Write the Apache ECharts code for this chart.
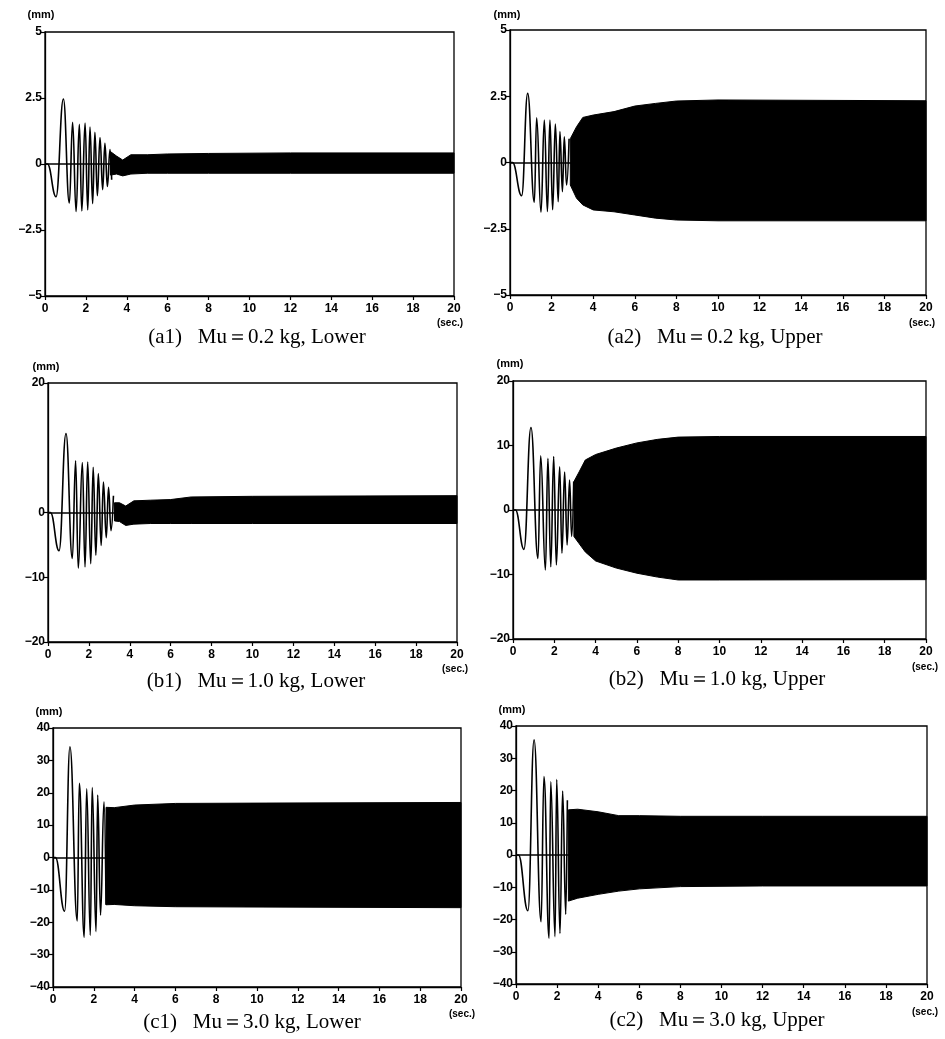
<!DOCTYPE html>
<html>
<head>
<meta charset="utf-8">
<script src="https://cdn.jsdelivr.net/npm/echarts@6/dist/echarts.min.js"></script>
<style>
  html, body { margin: 0; padding: 0; background: #fff; }
  #chart { width: 945px; height: 1039px; }
</style>
</head>
<body>
<div id="chart"></div>
<script>
// time axis ticks (sec.)
const timeTicks = [0, 2, 4, 6, 8, 10, 12, 14, 16, 18, 20]

// captions
const captions = [
  '(a1)   Mu＝0.2 kg, Lower',
  '(a2)   Mu＝0.2 kg, Upper',
  '(b1)   Mu＝1.0 kg, Lower',
  '(b2)   Mu＝1.0 kg, Upper',
  '(c1)   Mu＝3.0 kg, Lower',
  '(c2)   Mu＝3.0 kg, Upper',
]

// y ticks (mm)
const yTicksA = [-5, -2.5, 0, 2.5, 5]
const yTicksB1 = [-20, -10, 0, 20]
const yTicksB = [-20, -10, 0, 10, 20]
const yTicksC = [-40, -30, -20, -10, 0, 10, 20, 30, 40]

// transient peaks / troughs (t in sec, value in mm)
const a1T = [0, 0.12, 0.54, 0.9, 1.19, 1.35, 1.52, 1.68, 1.8, 1.96, 2.09, 2.2, 2.33, 2.44, 2.56, 2.69, 2.82, 2.93, 3.05, 3.18, 3.26]
const a1V = [0, 0, -1.24, 2.46, -1.48, 1.58, -1.8, 1.5, -1.78, 1.55, -1.74, 1.4, -1.5, 1.2, -1.2, 1.0, -0.97, 0.78, -0.85, 0.55, -0.6]
const a2T = [0, 0.12, 0.56, 0.85, 1.17, 1.28, 1.49, 1.65, 1.8, 1.92, 2.05, 2.18, 2.32, 2.4, 2.52, 2.61, 2.72, 2.84]
const a2V = [0, 0, -1.25, 2.61, -1.5, 1.69, -1.88, 1.6, -1.85, 1.6, -1.78, 1.45, -1.48, 1.17, -1.1, 0.97, -0.85, 0.9]
const b1T = [0, 0.12, 0.54, 0.88, 1.19, 1.35, 1.48, 1.68, 1.81, 1.94, 2.09, 2.21, 2.34, 2.46, 2.6, 2.71, 2.85, 2.96, 3.08, 3.2]
const b1V = [0, 0, -5.9, 12.2, -7.1, 8.0, -8.6, 7.7, -8.4, 7.8, -7.9, 7.0, -6.6, 6.0, -5.1, 4.7, -3.9, 3.9, -2.8, 2.6]
const b2T = [0, 0.12, 0.53, 0.87, 1.21, 1.34, 1.57, 1.69, 1.83, 1.97, 2.1, 2.26, 2.37, 2.5, 2.62, 2.74, 2.84, 2.94]
const b2V = [0, 0, -6.1, 12.8, -7.5, 8.4, -9.3, 8.0, -8.8, 8.3, -8.5, 6.7, -6.7, 5.9, -5.4, 4.65, -4.1, 4.4]
const c1T = [0, 0.12, 0.57, 0.83, 1.19, 1.29, 1.53, 1.65, 1.83, 1.92, 2.11, 2.19, 2.33, 2.5, 2.6]
const c1V = [0, 0, -16.6, 34.2, -19.6, 22.9, -24.6, 21.2, -24.0, 21.6, -22.9, 19.3, -17.8, 17.2, -14.6]
const c2T = [0, 0.12, 0.58, 0.88, 1.22, 1.36, 1.61, 1.69, 1.9, 1.98, 2.14, 2.27, 2.42, 2.5]
const c2V = [0, 0, -17.3, 35.7, -20.7, 24.3, -25.8, 22.7, -25.3, 23.4, -24.3, 19.8, -18.4, 17.0]

// envelope of the dense oscillation band (t, upper, lower)
const a1BandT = [3.2, 3.5, 3.8, 4.2, 5, 6, 8, 12, 20]
const a1BandUp = [0.47, 0.3, 0.15, 0.35, 0.35, 0.38, 0.4, 0.42, 0.42]
const a1BandLo = [-0.42, -0.38, -0.45, -0.38, -0.35, -0.35, -0.35, -0.35, -0.35]
const a2BandT = [2.9, 3.2, 3.5, 4, 5, 6, 7, 8, 10, 20]
const a2BandUp = [0.9, 1.35, 1.7, 1.79, 1.92, 2.13, 2.23, 2.32, 2.36, 2.33]
const a2BandLo = [-0.85, -1.35, -1.6, -1.79, -1.86, -1.98, -2.1, -2.17, -2.2, -2.2]
const b1BandT = [3.25, 3.5, 3.8, 4.2, 5, 6, 7, 10, 20]
const b1BandUp = [1.5, 1.5, 1.0, 1.8, 1.9, 2.0, 2.4, 2.5, 2.6]
const b1BandLo = [-1.3, -1.4, -2.0, -1.8, -1.7, -1.7, -1.7, -1.7, -1.7]
const b2BandT = [2.95, 3.2, 3.5, 4, 5, 6, 7, 8, 10, 20]
const b2BandUp = [4.4, 5.9, 7.75, 8.6, 9.6, 10.4, 10.95, 11.3, 11.4, 11.4]
const b2BandLo = [-4.1, -5.2, -6.5, -7.9, -9.0, -9.8, -10.4, -10.85, -10.85, -10.8]
const c1BandT = [2.6, 3, 4, 6, 10, 20]
const c1BandUp = [15.5, 15.4, 16.2, 16.7, 16.8, 17]
const c1BandLo = [-14.6, -14.5, -14.9, -15.2, -15.3, -15.5]
const c2BandT = [2.55, 3, 4, 5, 6, 8, 12, 20]
const c2BandUp = [14, 14.2, 13.4, 12.2, 12.2, 12, 12, 12]
const c2BandLo = [-14.3, -13.4, -12.2, -11.2, -10.5, -9.8, -9.6, -9.6]

const panels = [
  { grid: { left: 45, top: 32, width: 409, height: 264 }, yTicks: yTicksA, t: a1T, v: a1V, bt: a1BandT, bu: a1BandUp, bl: a1BandLo, cap: [257, 337], mm: [41, 15], sec: [450, 323] },
  { grid: { left: 510, top: 30, width: 416, height: 265 }, yTicks: yTicksA, t: a2T, v: a2V, bt: a2BandT, bu: a2BandUp, bl: a2BandLo, cap: [715, 337], mm: [507, 15], sec: [922, 323] },
  { grid: { left: 48, top: 383, width: 409, height: 259 }, yTicks: yTicksB1, t: b1T, v: b1V, bt: b1BandT, bu: b1BandUp, bl: b1BandLo, cap: [256, 681], mm: [46, 367], sec: [455, 669] },
  { grid: { left: 513, top: 381, width: 413, height: 258 }, yTicks: yTicksB, t: b2T, v: b2V, bt: b2BandT, bu: b2BandUp, bl: b2BandLo, cap: [717, 679], mm: [510, 364], sec: [925, 667] },
  { grid: { left: 53, top: 728, width: 408, height: 259 }, yTicks: yTicksC, t: c1T, v: c1V, bt: c1BandT, bu: c1BandUp, bl: c1BandLo, cap: [252, 1022], mm: [49, 712], sec: [462, 1014] },
  { grid: { left: 516, top: 726, width: 411, height: 258 }, yTicks: yTicksC, t: c2T, v: c2V, bt: c2BandT, bu: c2BandUp, bl: c2BandLo, cap: [717, 1020], mm: [512, 710], sec: [925, 1012] },
]

const tickFont = { color: '#000', fontFamily: 'Liberation Sans', fontWeight: 'bold', fontSize: 12 }
const fmt = v => String(v).replace('-', '−')
const zip = (a, b) => a.map((x, i) => [x, b[i]])

const grids = []
const xAxes = []
const yAxes = []
const series = []
const graphics = []

panels.forEach((p, i) => {
  grids.push({ ...p.grid, show: true, borderColor: '#000', borderWidth: 1.3, backgroundColor: 'transparent' })

  xAxes.push({
    gridIndex: i,
    type: 'value',
    min: 0,
    max: 20,
    interval: 2,
    axisLine: { show: true, onZero: false, lineStyle: { color: '#000', width: 1.3 } },
    axisTick: { show: true, length: 4, customValues: timeTicks, lineStyle: { color: '#000', width: 1.2 } },
    axisLabel: { ...tickFont, margin: 7, customValues: timeTicks },
    splitLine: { show: false },
  })

  const ys = p.yTicks
  yAxes.push({
    gridIndex: i,
    type: 'value',
    min: ys[0],
    max: ys[ys.length - 1],
    axisLine: { show: true, lineStyle: { color: '#000', width: 1.3 } },
    axisTick: { show: true, length: 5, customValues: ys, lineStyle: { color: '#000', width: 1.2 } },
    axisLabel: { ...tickFont, margin: 3, customValues: ys, formatter: fmt },
    splitLine: { show: false },
  })

  // dense band: one polygon, upper envelope out and lower envelope back
  series.push({
    type: 'custom',
    name: `band-${i}`,
    xAxisIndex: i,
    yAxisIndex: i,
    silent: true,
    z: 2,
    data: zip(p.bt, p.bu),
    encode: { x: 0, y: 1 },
    renderItem(params, api) {
      if (params.dataIndex !== 0)
        return null
      const top = p.bt.map((t, k) => api.coord([t, p.bu[k]]))
      const bottom = p.bt.map((t, k) => api.coord([t, p.bl[k]])).reverse()
      return {
        type: 'polygon',
        shape: { points: top.concat(bottom) },
        style: { fill: '#000', stroke: '#000', lineWidth: 1 },
      }
    },
  })

  series.push({
    type: 'line',
    name: `trace-${i}`,
    xAxisIndex: i,
    yAxisIndex: i,
    data: zip(p.t, p.v),
    symbol: 'none',
    smooth: 0.45,
    smoothMonotone: 'x',
    silent: true,
    lineStyle: { color: '#000', width: 1.6 },
    z: 3,
    markLine: {
      silent: true,
      symbol: 'none',
      label: { show: false },
      lineStyle: { color: '#000', width: 1.6, type: 'solid' },
      data: [{ yAxis: 0 }],
    },
  })

  graphics.push({
    type: 'text',
    x: p.cap[0],
    y: p.cap[1],
    style: { text: captions[i], fill: '#000', font: '21px "Liberation Serif"', textAlign: 'center', textVerticalAlign: 'middle' },
  })
  graphics.push({
    type: 'text',
    x: p.mm[0],
    y: p.mm[1],
    style: { text: '(mm)', fill: '#000', font: 'bold 11px "Liberation Sans"', textAlign: 'center', textVerticalAlign: 'middle' },
  })
  graphics.push({
    type: 'text',
    x: p.sec[0],
    y: p.sec[1],
    style: { text: '(sec.)', fill: '#000', font: 'bold 10px "Liberation Sans"', textAlign: 'center', textVerticalAlign: 'middle' },
  })
})

const chart = echarts.init(document.getElementById('chart'), null, { renderer: 'canvas' })
chart.setOption({
  backgroundColor: '#fff',
  animation: false,
  grid: grids,
  xAxis: xAxes,
  yAxis: yAxes,
  series,
  graphic: graphics,
})
</script>
</body>
</html>
